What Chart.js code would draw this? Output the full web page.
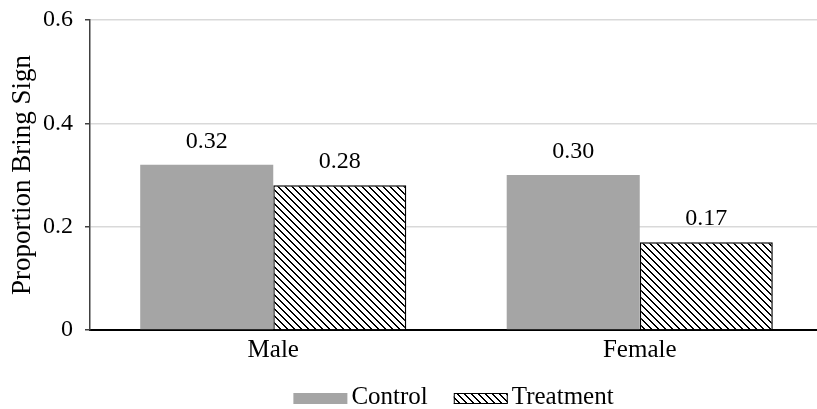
<!DOCTYPE html>
<html>
<head>
<meta charset="utf-8">
<script src="https://cdn.jsdelivr.net/npm/chart.js@4"></script>
<style>
  html, body { margin: 0; padding: 0; background: #fff; }
  #wrap { width: 817px; height: 409px; overflow: hidden; }
  canvas { display: block; }
</style>
</head>
<body>
<div id="wrap"><canvas id="bring-sign" width="823" height="409"></canvas></div>
<script>
var categories = ['Male', 'Female'];
var controlValues = [0.32, 0.30];
var treatmentValues = [0.28, 0.17];
var yTicks = [0, 0.2, 0.4, 0.6];
var seriesNames = ['Control', 'Treatment'];

var serif = "'Liberation Serif', 'DejaVu Serif', serif";
var canvas = document.getElementById('bring-sign');
var ctx = canvas.getContext('2d');
var visibleWidth = 817;

// diagonal hatch for the treatment bars
function makeHatch() {
    var c = document.createElement('canvas');
    c.width = 7;
    c.height = 7;
    var g = c.getContext('2d');
    g.fillStyle = '#fff';
    g.fillRect(0, 0, 7, 7);
    g.fillStyle = '#000';
    for (var i = 0; i < 7; i++) {
        g.fillRect(i, i, 1, 1);
        g.fillRect((i + 1) % 7, i, 1, 1);
    }
    return ctx.createPattern(c, 'repeat');
}
var hatch = makeHatch();

var valueLabels = {
    id: 'valueLabels',
    afterDatasetsDraw: function (chart) {
        var c = chart.ctx;
        c.save();
        c.font = '24px ' + serif;
        c.fillStyle = '#000';
        c.textAlign = 'center';
        c.textBaseline = 'alphabetic';
        chart.data.datasets.forEach(function (ds, i) {
            chart.getDatasetMeta(i).data.forEach(function (bar, j) {
                c.fillText(ds.data[j].toFixed(2), bar.x, bar.y - 17);
            });
        });
        c.restore();
    }
};

var bottomLegend = {
    id: 'bottomLegend',
    afterDraw: function (chart) {
        var c = chart.ctx;
        var area = chart.chartArea;
        c.save();
        c.font = '25px ' + serif;
        c.textBaseline = 'alphabetic';
        c.textAlign = 'left';
        var boxW = 54, boxH = 11, gap = 4, spacing = 26;
        var widths = chart.data.datasets.map(function (ds) {
            return boxW + gap + c.measureText(ds.label).width;
        });
        var total = widths[0] + spacing + widths[1];
        var x = (area.left + visibleWidth) / 2 - total / 2;
        var base = 404;
        chart.data.datasets.forEach(function (ds, i) {
            c.fillStyle = ds.backgroundColor;
            c.fillRect(x, base - boxH, boxW, boxH);
            if (ds.borderWidth) {
                c.strokeStyle = '#000';
                c.lineWidth = 1;
                c.strokeRect(x + 0.5, base - boxH + 0.5, boxW - 1, boxH - 1);
            }
            c.fillStyle = '#000';
            c.fillText(ds.label, x + boxW + gap, base);
            x += widths[i] + spacing;
        });
        c.restore();
    }
};

var config = {
    type: 'bar',
    data: {
        labels: categories,
        datasets: [{
            label: seriesNames[0],
            data: controlValues,
            backgroundColor: '#a5a5a5',
            borderWidth: 0
        }, {
            label: seriesNames[1],
            data: treatmentValues,
            backgroundColor: hatch,
            borderColor: '#000',
            borderWidth: 1.5
        }]
    },
    options: {
        responsive: false,
        animation: false,
        devicePixelRatio: 1,
        layout: { padding: { top: 20, right: 0, left: 0, bottom: 0 } },
        datasets: {
            bar: { categoryPercentage: 0.726, barPercentage: 1 }
        },
        plugins: {
            legend: { display: false },
            tooltip: { enabled: false }
        },
        scales: {
            x: {
                grid: { display: false, drawTicks: false },
                border: { display: true, color: '#000', width: 2 },
                ticks: { color: '#000', padding: 5, font: { family: serif, size: 25 } },
                afterFit: function (scale) {
                    scale.height = 79;
                    scale.paddingLeft = 0;
                    scale.paddingRight = 0;
                }
            },
            y: {
                min: 0,
                max: 0.6,
                afterBuildTicks: function (scale) {
                    scale.ticks = yTicks.map(function (v) { return { value: v }; });
                },
                ticks: {
                    color: '#000',
                    padding: 12,
                    font: { family: serif, size: 24 },
                    callback: function (v) { return v === 0 ? '0' : v.toFixed(1); }
                },
                grid: { color: '#d9d9d9', lineWidth: 1.5, tickLength: 5, tickColor: '#404040' },
                border: { display: true, color: '#404040', width: 1.5 },
                title: {
                    display: true,
                    text: 'Proportion Bring Sign',
                    color: '#000',
                    font: { family: serif, size: 27 },
                    padding: { top: 7, bottom: 0 }
                },
                afterFit: function (scale) {
                    scale.width = 90;
                    scale.paddingTop = 0;
                    scale.paddingBottom = 0;
                }
            }
        }
    },
    plugins: [valueLabels, bottomLegend]
};

var chart = new Chart(ctx, config);
</script>
</body>
</html>
